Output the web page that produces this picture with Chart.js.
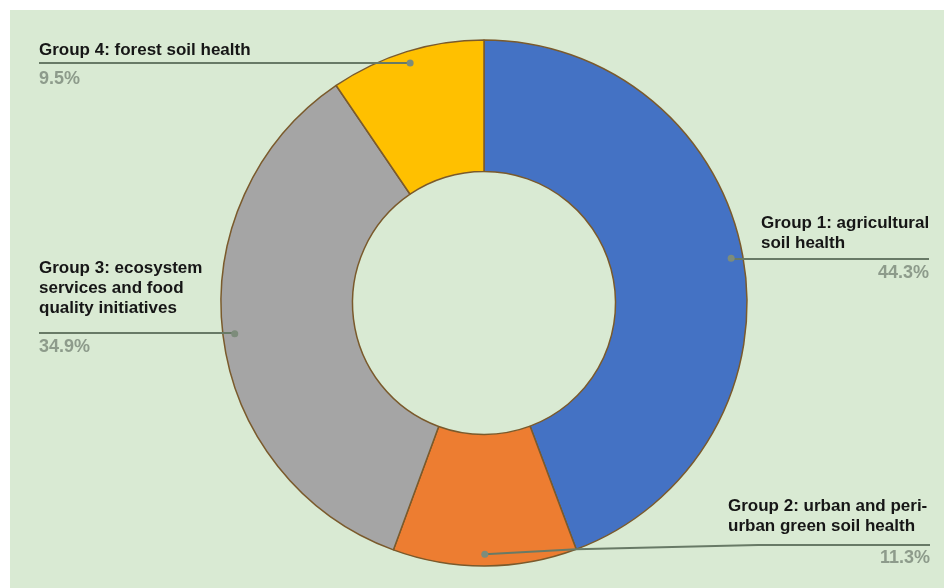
<!DOCTYPE html>
<html>
<head>
<meta charset="utf-8">
<script src="https://cdn.jsdelivr.net/npm/chart.js@4.4.1/dist/chart.umd.min.js"></script>
<style>
  html, body { margin: 0; padding: 0; background: #ffffff; }
  #wrap {
    position: absolute;
    left: 10px;
    top: 10px;
    width: 934px;
    height: 578px;
    background: #d9ead3;
  }
</style>
</head>
<body>
<div id="wrap"><canvas id="soilChart"></canvas></div>
<script>
// Data
const categories = [
  ["Group 1: agricultural", "soil health"],
  ["Group 2: urban and peri-", "urban green soil health"],
  ["Group 3: ecosystem", "services and food", "quality initiatives"],
  ["Group 4: forest soil health"],
]
const shares = [44.3, 11.3, 34.9, 9.5]
const sliceColors = ["#4472c4", "#ed7d31", "#a5a5a5", "#ffc000"]

// Where each callout sits (canvas px) - layout only
const callouts = [
  { lineY: 249, lineEnd: 919, textX: 751, textY: 218, pctX: 919, pctY: 268, pctAlign: "right" },
  { lineY: 535, lineEnd: 920, textX: 718, textY: 501, pctX: 920, pctY: 553, pctAlign: "right", bendX: 748 },
  { lineY: 323, lineEnd: 29, textX: 29, textY: 263, pctX: 29, pctY: 342, pctAlign: "left" },
  { lineY: 53, lineEnd: 29, textX: 29, textY: 45, pctX: 29, pctY: 74, pctAlign: "left" },
]

const calloutPlugin = {
  id: "callouts",
  afterDatasetsDraw(chart) {
    const ctx = chart.ctx
    const meta = chart.getDatasetMeta(0)
    ctx.save()
    meta.data.forEach((arc, i) => {
      const c = callouts[i]
      const p = arc.getProps(["x", "y", "startAngle", "endAngle", "outerRadius"], true)
      const mid = (p.startAngle + p.endAngle) / 2
      const r = p.outerRadius * 0.955
      const dx = p.x + Math.cos(mid) * r
      const dy = p.y + Math.sin(mid) * r

      // leader line
      ctx.strokeStyle = "#687a66"
      ctx.lineWidth = 2
      ctx.beginPath()
      ctx.moveTo(dx, dy)
      if (c.bendX) {
        const ex = p.x + Math.cos(p.startAngle) * p.outerRadius
        const ey = p.y + Math.sin(p.startAngle) * p.outerRadius
        ctx.lineTo(ex, ey)
        ctx.lineTo(c.bendX, c.lineY)
      } else {
        ctx.lineTo(dx, c.lineY)
      }
      ctx.lineTo(c.lineEnd, c.lineY)
      ctx.stroke()

      // dot
      ctx.fillStyle = "#7d8c7b"
      ctx.beginPath()
      ctx.arc(dx, dy, 3.5, 0, Math.PI * 2)
      ctx.fill()

      // label text
      ctx.font = "bold 17px 'Liberation Sans', Arial, sans-serif"
      ctx.textBaseline = "alphabetic"
      ctx.textAlign = "left"
      ctx.fillStyle = "#161616"
      categories[i].forEach((line, k) => {
        ctx.fillText(line, c.textX, c.textY + k * 20)
      })

      // percentage
      ctx.font = "bold 18px 'Liberation Sans', Arial, sans-serif"
      ctx.fillStyle = "#8d9b8b"
      ctx.textAlign = c.pctAlign
      ctx.fillText(shares[i].toFixed(1) + "%", c.pctX, c.pctY)
    })
    ctx.restore()
  },
}

new Chart(document.getElementById("soilChart"), {
  type: "doughnut",
  data: {
    labels: categories,
    datasets: [
      {
        data: shares,
        backgroundColor: sliceColors,
        borderColor: "#7a5a2c",
        borderWidth: 1.5,
        borderAlign: "center",
      },
    ],
  },
  options: {
    responsive: true,
    maintainAspectRatio: false,
    animation: false,
    radius: 263,
    cutout: "50%",
    layout: {
      padding: { left: 14, right: 0, top: 8, bottom: 0 },
    },
    plugins: {
      legend: { display: false },
      tooltip: { enabled: false },
    },
    events: [],
  },
  plugins: [calloutPlugin],
})
</script>
</body>
</html>
